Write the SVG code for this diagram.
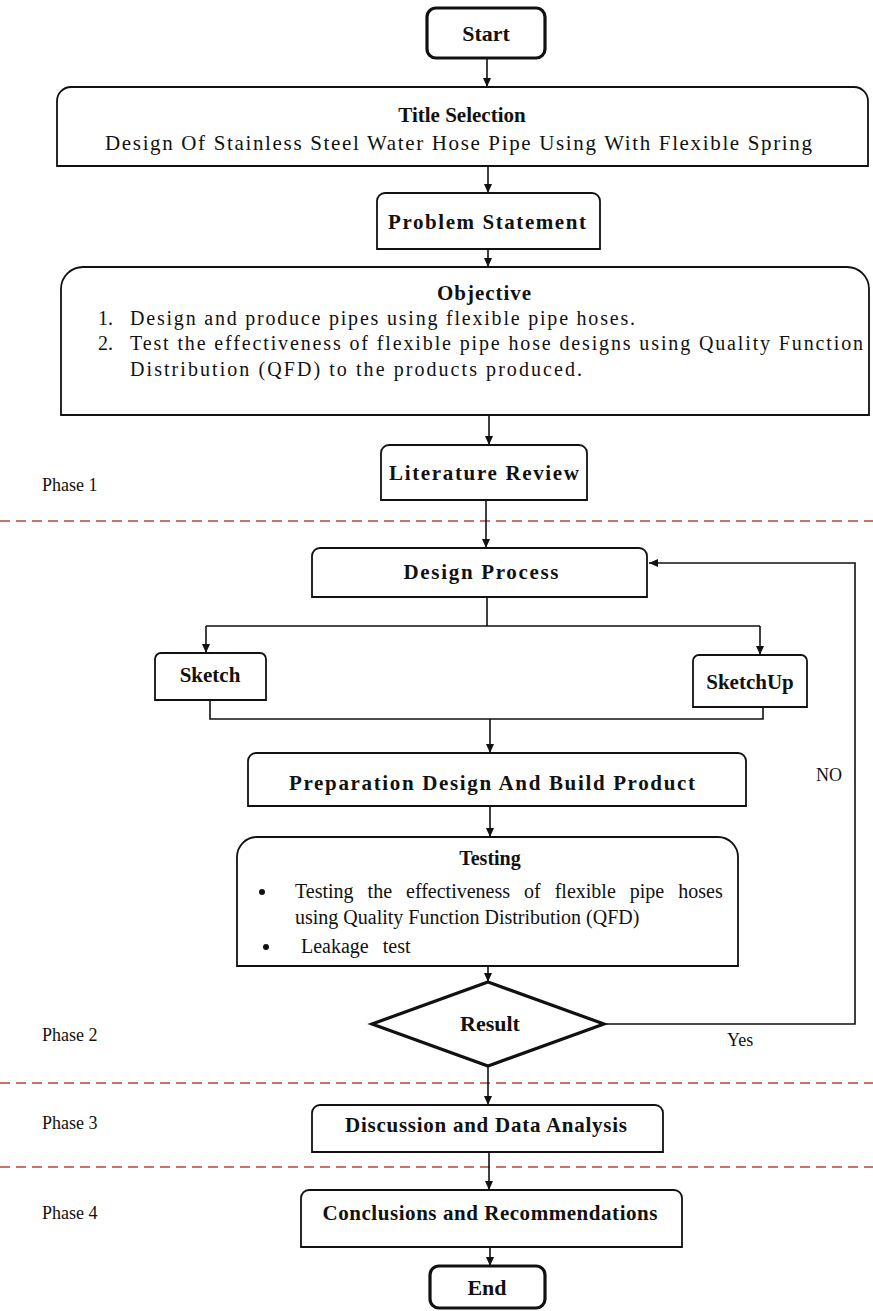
<svg xmlns="http://www.w3.org/2000/svg" width="873" height="1311" viewBox="0 0 873 1311">
<defs>
<marker id="ah" markerWidth="10" markerHeight="10" refX="9" refY="5" orient="auto" markerUnits="userSpaceOnUse">
<path d="M0,1 L9,5 L0,9 Z" fill="#111"/>
</marker>
<style>
.box{fill:#fff;stroke:#111;stroke-width:1.8}
.term{fill:#fff;stroke:#111;stroke-width:3.2}
.con{fill:none;stroke:#111;stroke-width:1.6}
.arr{fill:none;stroke:#111;stroke-width:1.6;marker-end:url(#ah)}
.dash{stroke:#b5453d;stroke-width:1.6;stroke-dasharray:10 6}
text{font-family:"Liberation Serif","Times New Roman",serif;fill:#111}
.b{font-weight:bold;font-size:21px}
.n{font-size:21px}
.o{font-size:20px}
.t{font-size:20px}
.ph{font-size:18px}
.c{text-anchor:middle}
</style>
</defs>
<rect width="873" height="1311" fill="#fff"/>

<g id="phase-lines">
<line class="dash" x1="0" y1="521" x2="873" y2="521"/>
<line class="dash" x1="0" y1="1083" x2="873" y2="1083"/>
<line class="dash" x1="0" y1="1167" x2="873" y2="1167"/>
<text class="ph" x="42" y="491">Phase 1</text>
<text class="ph" x="42" y="1041">Phase 2</text>
<text class="ph" x="42" y="1129">Phase 3</text>
<text class="ph" x="42" y="1219">Phase 4</text>
</g>

<g id="connectors">
<line class="arr" x1="487" y1="58" x2="487" y2="87"/>
<line class="arr" x1="488" y1="166" x2="488" y2="193"/>
<line class="arr" x1="488" y1="249" x2="488" y2="267"/>
<line class="arr" x1="489" y1="415" x2="489" y2="445"/>
<line class="arr" x1="486" y1="500" x2="486" y2="548"/>
<path class="con" d="M487,597 V626 M206,626 H760"/>
<line class="arr" x1="206" y1="626" x2="206" y2="653"/>
<line class="arr" x1="760" y1="626" x2="760" y2="655"/>
<path class="con" d="M210,700 V719 H763 V707"/>
<line class="arr" x1="490" y1="719" x2="490" y2="753"/>
<line class="arr" x1="490" y1="806" x2="490" y2="837"/>
<line class="arr" x1="488" y1="966" x2="488" y2="982"/>
<path class="arr" d="M604,1024 H855 V563 H649"/>
<line class="arr" x1="488" y1="1066" x2="488" y2="1105"/>
<line class="arr" x1="489" y1="1152" x2="489" y2="1190"/>
<line class="arr" x1="490" y1="1247" x2="490" y2="1266"/>
<text class="ph" x="816" y="781">NO</text>
<text class="ph" x="727" y="1046">Yes</text>
</g>

<g id="start">
<rect class="term" x="427" y="8" width="118" height="50" rx="9"/>
<text class="b c" x="486" y="41" style="font-size:22px">Start</text>
</g>

<g id="title-selection">
<path class="box" d="M57,166 V101 A14,14 0 0 1 71,87 H854 A14,14 0 0 1 868,101 V166 Z"/>
<text class="b c" x="462" y="122">Title Selection</text>
<text class="n" x="105" y="150" textLength="707" lengthAdjust="spacing">Design Of Stainless Steel Water Hose Pipe Using With Flexible Spring</text>
</g>

<g id="problem-statement">
<path class="box" d="M377,249 V201 A8,8 0 0 1 385,193 H592 A8,8 0 0 1 600,201 V249 Z"/>
<text class="b c" x="487" y="229" textLength="198" lengthAdjust="spacing">Problem Statement</text>
</g>

<g id="objective">
<path class="box" d="M61,415 V289 A22,22 0 0 1 83,267 H847 A22,22 0 0 1 869,289 V415 Z"/>
<text class="b c" x="484" y="300" textLength="94" lengthAdjust="spacing">Objective</text>
<text class="o" x="98" y="325">1.</text>
<text class="o" x="130" y="325" textLength="505" lengthAdjust="spacing">Design and produce pipes using flexible pipe hoses.</text>
<text class="o" x="98" y="350">2.</text>
<text class="o" x="130" y="350" textLength="733" lengthAdjust="spacing">Test the effectiveness of flexible pipe hose designs using Quality Function</text>
<text class="o" x="130" y="376" textLength="452" lengthAdjust="spacing">Distribution (QFD) to the products produced.</text>
</g>

<g id="literature-review">
<path class="box" d="M381,500 V453 A8,8 0 0 1 389,445 H579 A8,8 0 0 1 587,453 V500 Z"/>
<text class="b c" x="484" y="480" textLength="190" lengthAdjust="spacing">Literature Review</text>
</g>

<g id="design-process">
<path class="box" d="M312,597 V556 A8,8 0 0 1 320,548 H639 A8,8 0 0 1 647,556 V597 Z"/>
<text class="b c" x="481" y="579" textLength="155" lengthAdjust="spacing">Design Process</text>
</g>

<g id="sketch">
<path class="box" d="M155,700 V659 A6,6 0 0 1 161,653 H260 A6,6 0 0 1 266,659 V700 Z"/>
<text class="b c" x="210" y="682">Sketch</text>
</g>

<g id="sketchup">
<path class="box" d="M693,707 V661 A6,6 0 0 1 699,655 H801 A6,6 0 0 1 807,661 V707 Z"/>
<text class="b c" x="750" y="689">SketchUp</text>
</g>

<g id="preparation">
<path class="box" d="M248,806 V761 A8,8 0 0 1 256,753 H738 A8,8 0 0 1 746,761 V806 Z"/>
<text class="b c" x="492" y="790" textLength="406" lengthAdjust="spacing">Preparation Design And Build Product</text>
</g>

<g id="testing">
<path class="box" d="M237,966 V857 A20,20 0 0 1 257,837 H718 A20,20 0 0 1 738,857 V966 Z"/>
<text class="b c" x="490" y="865" style="font-size:20px">Testing</text>
<circle cx="262" cy="892" r="3" fill="#111"/>
<text class="t" x="295" y="898" word-spacing="9">Testing the effectiveness of flexible pipe hoses</text>
<text class="t" x="295" y="924">using Quality Function Distribution (QFD)</text>
<circle cx="266" cy="947" r="3" fill="#111"/>
<text class="t" x="301" y="953" word-spacing="9">Leakage test</text>
</g>

<g id="result">
<path class="term" d="M488,982 L604,1024 L488,1066 L372,1024 Z"/>
<text class="b c" x="490" y="1031" style="font-size:22px">Result</text>
</g>

<g id="discussion">
<path class="box" d="M312,1152 V1113 A8,8 0 0 1 320,1105 H655 A8,8 0 0 1 663,1113 V1152 Z"/>
<text class="b c" x="486" y="1132" textLength="282" lengthAdjust="spacing">Discussion and Data Analysis</text>
</g>

<g id="conclusions">
<path class="box" d="M301,1247 V1198 A8,8 0 0 1 309,1190 H674 A8,8 0 0 1 682,1198 V1247 Z"/>
<text class="b c" x="490" y="1220" textLength="335" lengthAdjust="spacing">Conclusions and Recommendations</text>
</g>

<g id="end">
<rect class="term" x="430" y="1266" width="115" height="42" rx="9"/>
<text class="b c" x="487" y="1295" style="font-size:22px">End</text>
</g>
</svg>
